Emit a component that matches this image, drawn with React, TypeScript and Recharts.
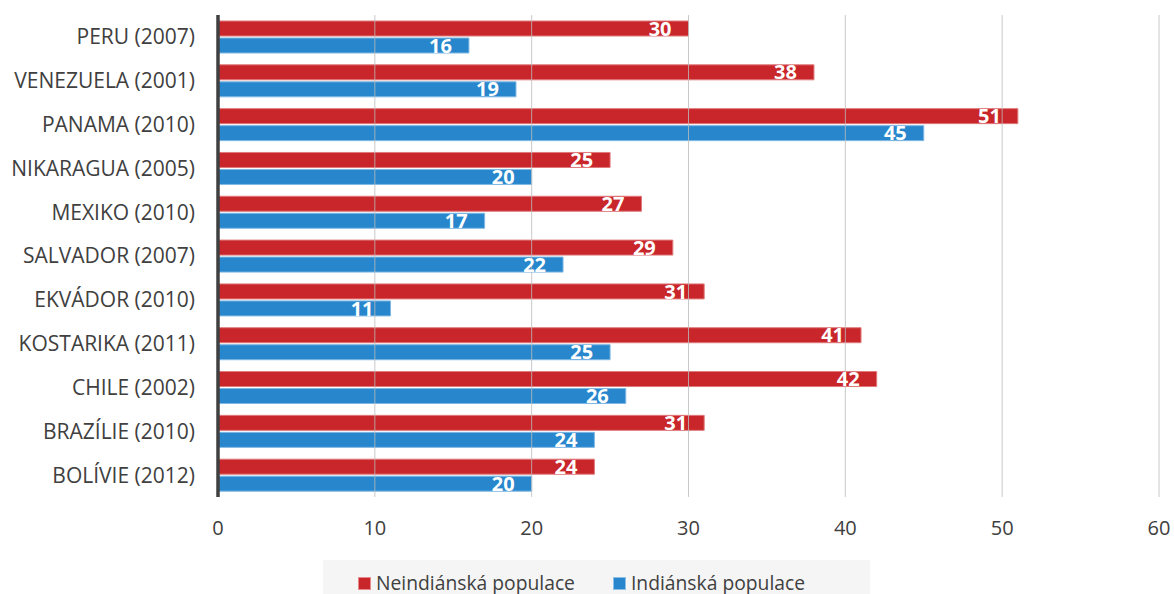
import { FC } from "react"
import { BarChart, Bar, XAxis, YAxis, Legend, LabelList, ReferenceLine } from 'recharts';

const countries = [
    'PERU (2007)', 'VENEZUELA (2001)', 'PANAMA (2010)', 'NIKARAGUA (2005)', 'MEXIKO (2010)',
    'SALVADOR (2007)', 'EKVÁDOR (2010)', 'KOSTARIKA (2011)', 'CHILE (2002)', 'BRAZÍLIE (2010)', 'BOLÍVIE (2012)',
]
const nonIndian = [30, 38, 51, 25, 27, 29, 31, 41, 42, 31, 24]
const indian = [16, 19, 45, 20, 17, 22, 11, 25, 26, 24, 20]
const xTicks = [0, 10, 20, 30, 40, 50, 60]

const RED = '#c8262a'
const BLUE = '#2887cc'
const FONT = '"Open Sans", "DejaVu Sans", sans-serif'

const data = countries.map((name, idx) => ({name, non: nonIndian[idx], ind: indian[idx]}))

const LegendBox: FC = () => (
    <div style={{width: 547, height: 34, background: '#f5f5f5', boxSizing: 'border-box', paddingTop: 10, paddingLeft: 35,
        display: 'flex', fontFamily: FONT, fontSize: 19.3, lineHeight: '22px', color: '#404040'}}>
        <span style={{display: 'flex', alignItems: 'flex-end'}}>
            <span style={{width: 11, height: 11, background: RED, border: '1px solid #e88a8c', marginRight: 5, marginBottom: 4}}/>
            Neindiánská populace
        </span>
        <span style={{display: 'flex', alignItems: 'flex-end', marginLeft: 38}}>
            <span style={{width: 11, height: 11, background: BLUE, border: '1px solid #8cc0e8', marginRight: 5, marginBottom: 4}}/>
            Indiánská populace
        </span>
    </div>
)

const App: FC = () => {
    return (<div style={{position: 'absolute', left: 0, top: 0, width: 1174, height: 594, background: '#fff', overflow: 'hidden'}}>
        <BarChart width={1174} height={594} data={data} layout="vertical" barSize={15} barGap={2}
            margin={{top: 15, right: 15, bottom: 0, left: 0}}>
            <XAxis type="number" domain={[0, 60]} ticks={xTicks} axisLine={false} tickLine={false} tickMargin={18}
                height={63} tick={{fill: '#404040', fontSize: 20, fontFamily: FONT}}/>
            <YAxis type="category" dataKey="name" width={218} tickLine={false} tickMargin={17}
                axisLine={{stroke: '#404040', strokeWidth: 3.5}}
                tick={{fill: '#404040', fontSize: 21, fontFamily: FONT}}/>
            <Bar dataKey="non" name="Neindiánská populace" fill={RED} stroke="#e07a7c" strokeWidth={1} isAnimationActive={false}>
                <LabelList dataKey="non" position="insideRight" offset={17} fill="#fff"
                    style={{fontFamily: FONT, fontSize: 20, fontWeight: 700}}/>
            </Bar>
            <Bar dataKey="ind" name="Indiánská populace" fill={BLUE} stroke="#7fb8e4" strokeWidth={1} isAnimationActive={false}>
                <LabelList dataKey="ind" position="insideRight" offset={17} fill="#fff"
                    style={{fontFamily: FONT, fontSize: 20, fontWeight: 700}}/>
            </Bar>
            {xTicks.slice(1).map(t => <ReferenceLine key={t} x={t} stroke="#bbbbbb" strokeOpacity={0.8} strokeWidth={1}/>)}
            <Legend verticalAlign="bottom" content={() => <LegendBox/>}
                wrapperStyle={{left: 323, top: 560, width: 547, height: 34}}/>
        </BarChart>
    </div>)
}

export default App
